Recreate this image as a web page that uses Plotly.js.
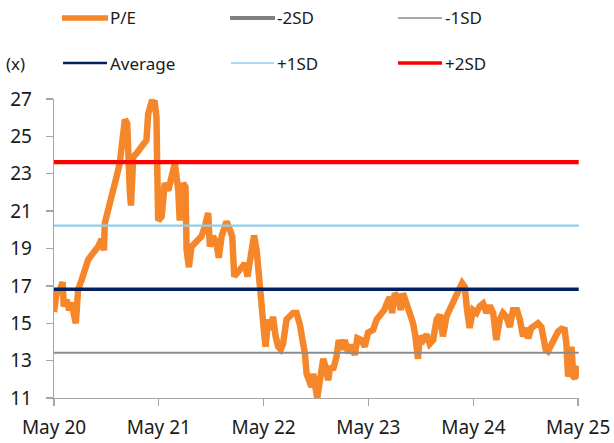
<!DOCTYPE html>
<html>
<head>
<meta charset="utf-8">
<script src="https://cdn.plot.ly/plotly-3.0.1.min.js"></script>
<style>html,body{margin:0;padding:0;background:#fff;}#chart{width:614px;height:443px;}</style>
</head>
<body>
<div id="chart"></div>
<script>
// ---- Data ----
const peDates = [
"2020-05-01","2020-05-10","2020-05-22","2020-05-31","2020-06-04","2020-06-14","2020-06-23","2020-07-01","2020-07-16","2020-07-24",
"2020-08-05","2020-08-17","2020-08-28","2020-09-14","2020-10-02","2020-10-14","2020-10-22","2020-10-25","2020-11-06","2020-11-18",
"2020-12-05","2020-12-16","2020-12-26","2021-01-03","2021-01-11","2021-01-14","2021-01-20","2021-01-24","2021-02-01","2021-02-13",
"2021-03-02","2021-03-19","2021-03-25","2021-04-06","2021-04-17","2021-04-23","2021-04-25","2021-04-29","2021-05-11","2021-05-22",
"2021-06-03","2021-06-14","2021-06-26","2021-07-08","2021-07-13","2021-07-25","2021-08-02","2021-08-06","2021-08-14","2021-08-23",
"2021-09-10","2021-09-27","2021-10-09","2021-10-20","2021-10-26","2021-11-06","2021-11-18","2021-11-26","2021-12-06","2021-12-23",
"2022-01-04","2022-01-12","2022-01-19","2022-02-07","2022-02-25","2022-03-06","2022-03-20","2022-03-29","2022-04-07","2022-04-12",
"2022-04-18","2022-04-22","2022-04-26","2022-05-03","2022-05-08","2022-05-17","2022-05-26","2022-06-03","2022-06-12","2022-06-21",
"2022-06-30","2022-07-08","2022-07-20","2022-08-01","2022-08-12","2022-08-24","2022-09-05","2022-09-16","2022-09-22","2022-09-28",
"2022-10-09","2022-10-15","2022-10-21","2022-10-27","2022-11-04","2022-11-10","2022-11-17","2022-11-25","2022-12-06","2022-12-12",
"2022-12-20","2022-12-29","2023-01-10","2023-01-18","2023-01-28","2023-02-08","2023-02-20","2023-03-03","2023-03-15","2023-03-24",
"2023-04-07","2023-04-19","2023-04-30","2023-05-18","2023-05-30","2023-06-14","2023-06-25","2023-07-07","2023-07-15","2023-07-23",
"2023-08-01","2023-08-13","2023-08-22","2023-08-30","2023-09-11","2023-09-23","2023-10-04","2023-10-12","2023-10-21","2023-10-27",
"2023-11-08","2023-11-20","2023-12-01","2023-12-13","2023-12-25","2024-01-05","2024-01-16","2024-01-28","2024-02-09","2024-02-20",
"2024-03-03","2024-03-12","2024-03-23","2024-04-01","2024-04-09","2024-04-18","2024-04-30","2024-05-12","2024-05-23","2024-06-04",
"2024-06-16","2024-06-27","2024-07-09","2024-07-20","2024-08-01","2024-08-12","2024-08-24","2024-09-05","2024-09-16","2024-09-30",
"2024-10-10","2024-10-21","2024-10-31","2024-11-08","2024-11-19","2024-12-01","2024-12-12","2024-12-24","2025-01-01","2025-01-08",
"2025-01-16","2025-01-28","2025-02-08","2025-02-20","2025-03-04","2025-03-15","2025-03-21","2025-03-27","2025-04-02","2025-04-08",
"2025-04-14","2025-04-20","2025-04-28","2025-05-03"
];
const peValues = [
15.6,16.6,16.8,17.2,15.9,16.25,15.7,16.1,15.0,16.8,
17.3,18.0,18.4,18.75,19.1,19.5,18.9,20.35,21.2,22.0,
22.85,23.55,24.8,25.9,25.7,23.9,22.1,21.3,23.9,24.1,
24.45,24.8,26.2,26.85,26.8,26.05,23.9,20.5,20.7,22.5,
22.1,23.0,23.55,22.1,20.5,22.5,22.3,18.9,18.0,19.1,
19.45,19.65,20.2,20.9,19.1,19.65,19.3,18.5,19.65,20.45,
20.0,19.65,17.5,17.85,18.2,17.5,18.9,19.7,18.9,17.85,
16.8,15.9,15.35,14.5,13.75,15.2,14.65,15.35,14.3,13.75,
13.6,13.9,15.2,15.35,15.55,15.55,14.9,13.9,13.4,12.3,
11.95,11.6,12.3,11.6,11.0,11.6,12.5,13.1,12.5,11.95,
12.7,12.5,13.2,14.1,13.6,14.1,13.4,13.85,13.3,14.2,
14.1,13.75,14.5,14.65,15.2,15.45,15.7,16.15,16.4,15.55,
16.6,16.4,15.7,16.6,16.05,15.35,15.0,14.3,13.1,14.3,
14.1,14.4,13.9,14.1,15.2,15.45,14.3,15.35,15.7,16.05,
16.4,16.8,17.15,16.95,15.7,14.75,15.7,15.55,15.9,16.05,
15.55,15.95,15.55,14.1,15.2,15.55,15.35,14.8,15.7,15.7,
15.2,14.3,14.75,14.2,14.75,14.9,15.0,14.8,14.3,13.6,
13.5,13.85,14.2,14.55,14.7,14.65,13.9,12.15,12.5,13.75,
12.15,12.05,12.5,12.7
];
const bandDates = ["2020-05-01","2025-05-03"];
const minus2SD = [10.02,10.02];
const minus1SD = [13.42,13.42];
const averagePE = [16.82,16.82];
const plus1SD = [20.22,20.22];
const plus2SD = [23.62,23.62];
const xTickVals = ["2020-05-01","2021-05-01","2022-05-01","2023-05-01","2024-05-01","2025-05-01"];
const xTickText = ["May 20","May 21","May 22","May 23","May 24","May 25"];
const yTickVals = [11,13,15,17,19,21,23,25,27];
const seriesNames = ["P/E","-2SD","-1SD","Average","+1SD","+2SD"];

// ---- Styles ----
const FONT = "'Noto Sans', 'Open Sans', sans-serif";
const TXT = "#1a1a1a";
const AX = "#a6a6a6";
const styles = [
  {color:"#F5862A", width:6.5},
  {color:"#808080", width:5},
  {color:"#8c8c8c", width:2},
  {color:"#002060", width:3.5},
  {color:"#92CDEB", width:2.3},
  {color:"#FF0000", width:4.3}
];
const ML = 54, MR = 35, MT = 99, MB = 45, W = 614, H = 443;
const PW = W - ML - MR, PH = H - MT - MB;
const px2x = p => (p - ML) / PW;
const py2y = p => (MT + PH - p) / PH;

const ys = [peValues, minus2SD, minus1SD, averagePE, plus1SD, plus2SD];
const traces = ys.map((y, i) => ({
  type: "scatter", mode: "lines",
  x: i === 0 ? peDates : bandDates, y: y,
  name: seriesNames[i], showlegend: false,
  line: {color: styles[i].color, width: styles[i].width, shape: "linear"},
  hoverinfo: "skip"
}));

// ---- Manual legend (layout positions in pixels) ----
const legendPos = [
  {x0:62, x1:108, tx:108, y:18},
  {x0:230, x1:275, tx:275, y:18},
  {x0:398, x1:442, tx:443, y:18},
  {x0:63, x1:107, tx:108, y:63},
  {x0:231, x1:274, tx:275, y:63},
  {x0:398, x1:442, tx:443, y:63}
];
const shapes = legendPos.map((p, i) => ({
  type: "line", xref: "paper", yref: "paper",
  x0: px2x(p.x0), x1: px2x(p.x1), y0: py2y(p.y), y1: py2y(p.y),
  line: {color: styles[i].color, width: Math.max(styles[i].width - 0.8, 1.5)}
}));
const annotations = legendPos.map((p, i) => ({
  xref: "paper", yref: "paper", x: px2x(p.tx), y: py2y(p.y),
  xanchor: "left", yanchor: "middle", showarrow: false,
  text: seriesNames[i], font: {family: FONT, size: 17, color: TXT}
}));
annotations.push({
  xref: "paper", yref: "paper", x: px2x(4), y: py2y(63),
  xanchor: "left", yanchor: "middle", showarrow: false,
  text: "(x)", font: {family: FONT, size: 17, color: TXT}
});

const layout = {
  width: W, height: H,
  margin: {l: ML, r: MR, t: MT, b: MB, pad: 0},
  paper_bgcolor: "#fff", plot_bgcolor: "#fff",
  showlegend: false,
  font: {family: FONT, size: 19, color: TXT},
  xaxis: {
    type: "date", range: ["2020-05-01", "2025-05-04"],
    tickvals: xTickVals, ticktext: xTickText,
    showgrid: false, zeroline: false,
    showline: true, linecolor: AX, linewidth: 1.3,
    ticks: "outside", ticklen: 7, tickcolor: AX, tickwidth: 1.3,
    tickfont: {family: FONT, size: 19, color: TXT},
    ticklabelstandoff: 5, fixedrange: true
  },
  yaxis: {
    range: [11, 27], tickvals: yTickVals,
    showgrid: false, zeroline: false,
    showline: true, linecolor: AX, linewidth: 1.3,
    ticks: "outside", ticklen: 7, tickcolor: AX, tickwidth: 1.3,
    tickfont: {family: FONT, size: 19, color: TXT},
    ticklabelstandoff: 10, fixedrange: true
  },
  shapes: shapes,
  annotations: annotations
};
Plotly.newPlot("chart", traces, layout, {staticPlot: true, displayModeBar: false});
</script>
</body>
</html>
